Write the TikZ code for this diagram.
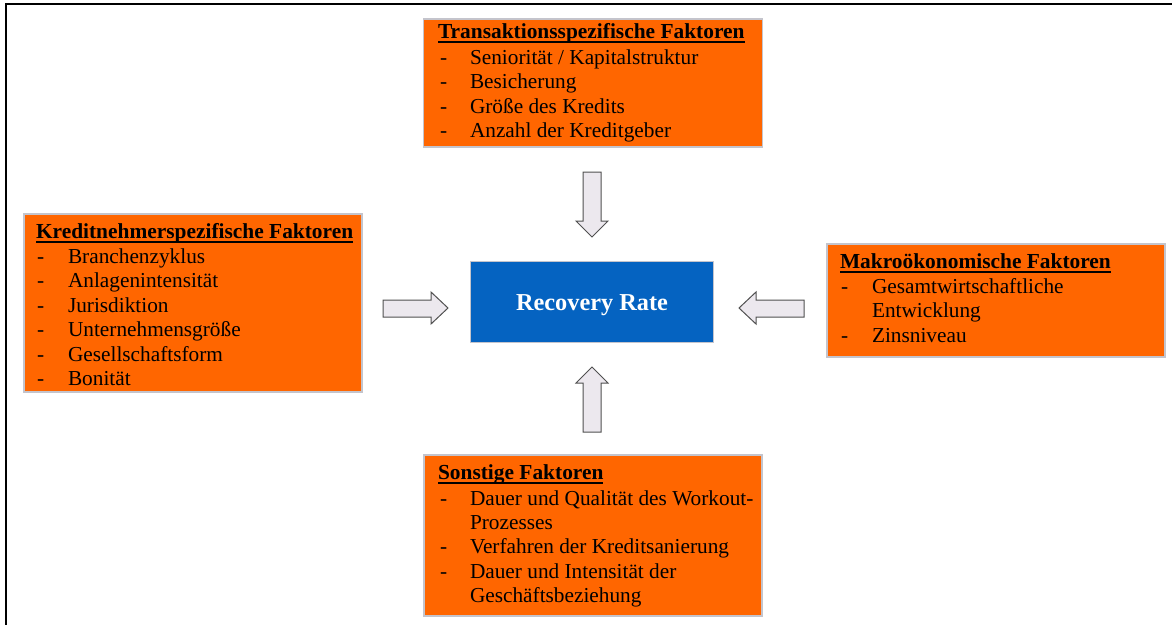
\documentclass[tikz,border=0pt]{standalone}
\usepackage{fontspec}
\setmainfont{Liberation Serif}
\definecolor{orangefill}{HTML}{FF6600}
\definecolor{boxgray}{HTML}{C4C4CC}
\definecolor{rrblue}{HTML}{0563C1}
\definecolor{arrowfill}{HTML}{ECE8EE}
\definecolor{arrowgray}{HTML}{505050}
\tikzset{
  box/.style={draw=boxgray, line width=1.2pt, fill=orangefill, anchor=north west, inner sep=0pt, outer sep=0pt},
  txt/.style={anchor=base west, inner sep=0pt, outer sep=0pt, font=\fontsize{21.3}{24}\selectfont},
  headtxt/.style={txt, font=\fontsize{21.4}{24}\selectfont\bfseries},
  uline/.style={line width=1.3pt},
  blockarrow/.style={draw=arrowgray, fill=arrowfill, line width=1pt, line join=miter},
}
\begin{document}
\begin{tikzpicture}[x=1pt,y=-1pt]
\useasboundingbox (0,0) rectangle (1172,625);
% frame
\draw[line width=2pt] (1172,4) -- (6,4) -- (6,625);

% top box
\node[box, minimum width=339pt, minimum height=128pt] (tbox) at (423.5,19) {};
\node[headtxt] (th) at (438,38) {Transaktionsspezifische Faktoren};
\draw[uline] ([yshift=-4pt]th.base west) -- ([yshift=-4pt]th.base east);
\foreach \i/\y/\s in {1/64/{Seniorität / Kapitalstruktur},2/88/{Besicherung},3/113/{Größe des Kredits},4/137/{Anzahl der Kreditgeber}}{
  \node[txt] (td\i) at (440,\y) {-};
  \node[txt] (tt\i) at (470,\y) {\s};
}

% left box
\node[box, minimum width=338pt, minimum height=178pt] (lbox) at (24,214) {};
\node[headtxt] (lh) at (36,238) {Kreditnehmerspezifische Faktoren};
\draw[uline] ([yshift=-4pt]lh.base west) -- ([yshift=-4pt]lh.base east);
\foreach \i/\y/\s in {1/263/{Branchenzyklus},2/287.5/{Anlagenintensität},3/312/{Jurisdiktion},4/336.5/{Unternehmensgröße},5/361/{Gesellschaftsform},6/385.5/{Bonität}}{
  \node[txt] (ld\i) at (37,\y) {-};
  \node[txt] (lt\i) at (68,\y) {\s};
}

% right box
\node[box, minimum width=338pt, minimum height=113pt] (rbox) at (827,244) {};
\node[headtxt] (rh) at (840,268) {Makroökonomische Faktoren};
\draw[uline] ([yshift=-4pt]rh.base west) -- ([yshift=-4pt]rh.base east);
\node[txt] (rd1) at (841,293) {-};
\node[txt] (rt1) at (872,293) {Gesamtwirtschaftliche};
\node[txt] (rt1b) at (872,317.5) {Entwicklung};
\node[txt] (rd2) at (841,342) {-};
\node[txt] (rt2) at (872,342) {Zinsniveau};

% bottom box
\node[box, minimum width=338pt, minimum height=161pt] (bbox) at (424,455) {};
\node[headtxt] (bh) at (438,479) {Sonstige Faktoren};
\draw[uline] ([yshift=-4pt]bh.base west) -- ([yshift=-4pt]bh.base east);
\node[txt] (bd1) at (440,505) {-};
\node[txt] (bt1) at (470,505) {Dauer und Qualität des Workout-};
\node[txt] (bt1b) at (470,529) {Prozesses};
\node[txt] (bd2) at (440,553.5) {-};
\node[txt] (bt2) at (470,553.5) {Verfahren der Kreditsanierung};
\node[txt] (bd3) at (440,578) {-};
\node[txt] (bt3) at (470,578) {Dauer und Intensität der};
\node[txt] (bt3b) at (470,602) {Geschäftsbeziehung};

% center box
\node[draw=boxgray, line width=0.8pt, fill=rrblue, minimum width=243pt, minimum height=81pt, inner sep=0pt] (rr) at (591.5,301.5) {};
\node[anchor=base, inner sep=0pt, text=white, font=\fontsize{24.3}{28}\selectfont\bfseries] (rrt) at (592,310) {Recovery Rate};

% block arrows
\draw[blockarrow] (583,172) -- (601,172) -- (601,221) -- (608,221) -- (592,237) -- (576,221) -- (583,221) -- cycle;
\draw[blockarrow] (583,432) -- (601,432) -- (601,383) -- (608,383) -- (592,367) -- (576,383) -- (583,383) -- cycle;
\draw[blockarrow] (383,300) -- (431,300) -- (431,292) -- (448,308) -- (431,324) -- (431,317) -- (383,317) -- cycle;
\draw[blockarrow] (804,300) -- (756,300) -- (756,292) -- (739,308) -- (756,324) -- (756,317) -- (804,317) -- cycle;
\end{tikzpicture}
\end{document}
